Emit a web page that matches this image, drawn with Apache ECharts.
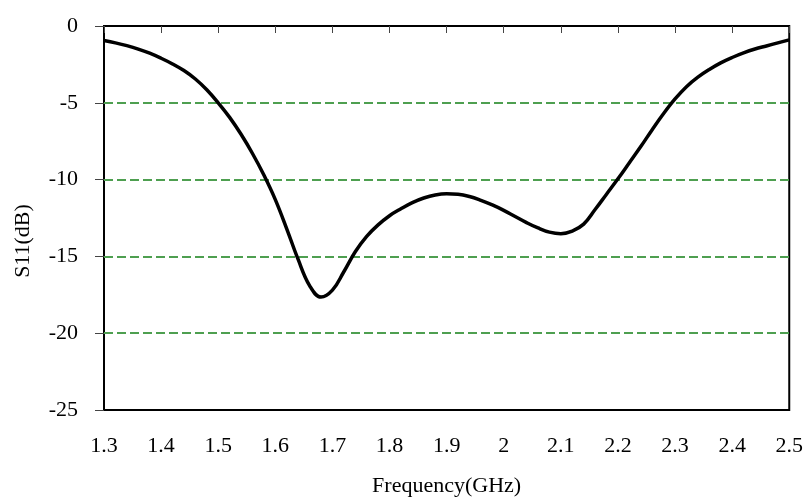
<!DOCTYPE html>
<html>
<head>
<meta charset="utf-8">
<script src="https://cdn.jsdelivr.net/npm/echarts@6/dist/echarts.min.js"></script>
<style>
  html, body { margin: 0; padding: 0; background: #fff; }
  #chart { width: 806px; height: 502px; }
</style>
</head>
<body>
<div id="chart"></div>
<script>
// frequency (GHz) and S11 (dB)
const freq = [1.30, 1.32, 1.34, 1.36, 1.38, 1.40, 1.42, 1.44, 1.46, 1.48, 1.50, 1.52, 1.54, 1.56, 1.58, 1.60,
  1.62, 1.64, 1.66, 1.68, 1.70, 1.72, 1.74, 1.76, 1.78, 1.80, 1.82, 1.84, 1.86, 1.88, 1.90,
  1.92, 1.94, 1.96, 1.98, 2.00, 2.02, 2.04, 2.06, 2.08, 2.10, 2.12, 2.14, 2.16, 2.18, 2.20,
  2.22, 2.24, 2.26, 2.28, 2.30, 2.32, 2.34, 2.36, 2.38, 2.40, 2.42, 2.44, 2.46, 2.48, 2.50]
const s11 = [-0.95, -1.10, -1.28, -1.50, -1.77, -2.10, -2.47, -2.90, -3.45, -4.15, -5.0, -5.95, -7.05, -8.3, -9.7, -11.3,
  -13.2, -15.2, -16.9, -17.65, -17.2, -16.0, -14.7, -13.7, -12.95, -12.35, -11.9, -11.5, -11.2, -11.0, -10.92,
  -10.95, -11.1, -11.35, -11.65, -12.0, -12.4, -12.8, -13.15, -13.42, -13.52, -13.35, -12.9, -11.95, -10.95, -9.95,
  -8.9, -7.85, -6.75, -5.7, -4.75, -3.95, -3.33, -2.83, -2.4, -2.05, -1.75, -1.5, -1.3, -1.1, -0.9]
const xTicks = [1.3, 2.5, 0.1] // min, max, step
const yTicks = [-25, 0, 5]

const font = 'Liberation Serif'
const chart = echarts.init(document.getElementById('chart'))

let option = {
  animation: false,
  grid: {
    left: 104,
    right: 14,
    top: 26,
    bottom: 89,
    show: true,
    borderColor: '#000',
    borderWidth: 2
  },
  xAxis: [
    {
      type: 'value',
      min: xTicks[0],
      max: xTicks[1],
      interval: xTicks[2],
      position: 'bottom',
      name: 'Frequency(GHz)',
      nameLocation: 'middle',
      nameGap: 65,
      nameTextStyle: { fontFamily: font, fontSize: 22, color: '#000' },
      axisLine: { show: false },
      axisTick: { show: false },
      splitLine: { show: false },
      axisLabel: {
        margin: 25,
        fontFamily: font,
        fontSize: 22,
        color: '#000',
        formatter: v => String(+v.toFixed(1))
      }
    },
    {
      // upper axis carries the inward tick marks
      type: 'value',
      min: xTicks[0],
      max: xTicks[1],
      interval: xTicks[2],
      position: 'top',
      axisLine: { show: false },
      axisTick: { show: true, inside: true, length: 7, lineStyle: { color: '#444', width: 1 } },
      axisLabel: { show: false },
      splitLine: { show: false }
    }
  ],
  yAxis: {
    type: 'value',
    min: yTicks[0],
    max: yTicks[1],
    interval: yTicks[2],
    name: 'S11(dB)',
    nameLocation: 'middle',
    nameGap: 70,
    nameTextStyle: { fontFamily: font, fontSize: 22, color: '#000', padding: [0, 46, 0, 0] },
    axisLine: { show: false },
    axisTick: { show: true, length: 9, lineStyle: { color: '#444', width: 1 } },
    axisLabel: { margin: 26, fontFamily: font, fontSize: 22, color: '#000' },
    splitLine: {
      show: true,
      showMinLine: false,
      showMaxLine: false,
      lineStyle: { color: '#4e9f50', width: 2, type: [9, 4] }
    }
  },
  series: [
    {
      type: 'line',
      data: freq.map((f, i) => [f, s11[i]]),
      smooth: 0.4,
      showSymbol: false,
      lineStyle: { color: '#000', width: 3.5 },
      z: 5
    }
  ]
}

chart.setOption(option)
</script>
</body>
</html>
